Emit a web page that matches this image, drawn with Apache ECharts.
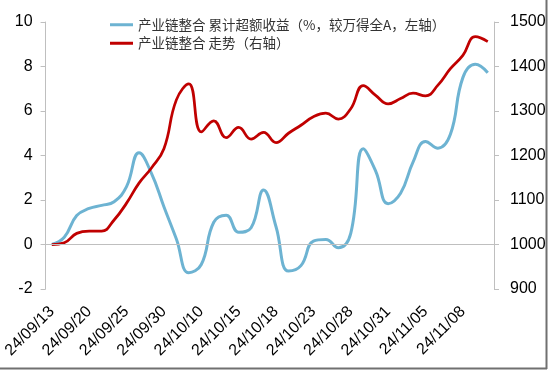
<!DOCTYPE html>
<html>
<head>
<meta charset="utf-8">
<script src="https://cdn.jsdelivr.net/npm/echarts@6/dist/echarts.min.js"></script>
<style>
html,body{margin:0;padding:0;background:#fff;}
#c{width:550px;height:371px;}
</style>
</head>
<body>
<div id="c"></div>
<script>
var categories = ['24/09/13','24/09/18','24/09/19','24/09/20','24/09/23','24/09/24','24/09/25','24/09/26','24/09/27','24/09/30',
  '24/10/08','24/10/09','24/10/10','24/10/11','24/10/14','24/10/15','24/10/16','24/10/17','24/10/18','24/10/21',
  '24/10/22','24/10/23','24/10/24','24/10/25','24/10/28','24/10/29','24/10/30','24/10/31','24/11/01','24/11/04',
  '24/11/05','24/11/06','24/11/07','24/11/08','24/11/11','24/11/12'];
var excessReturn = [0, 0.33, 1.3, 1.62, 1.76, 1.92, 2.6, 4.12, 3.2, 1.7,
  0.25, -1.27, -0.9, 1.0, 1.32, 0.55, 0.75, 2.45, 0.8, -1.19,
  -0.95, 0.15, 0.22, -0.15, 0.5, 4.3, 3.3, 1.83, 2.3, 3.7,
  4.63, 4.33, 4.95, 7.5, 8.1, 7.72];
var trendIndex = [1000, 1004, 1025, 1030, 1030, 1055, 1093, 1138, 1172, 1215,
  1325, 1361, 1253, 1278, 1240, 1263, 1237, 1252, 1229, 1250,
  1268, 1287, 1295, 1282, 1305, 1357, 1335, 1316, 1328, 1340,
  1334, 1358, 1395, 1425, 1467, 1456];
var seriesNames = ['产业链整合 累计超额收益（%，较万得全A，左轴）', '产业链整合 走势（右轴）'];
var leftTicks = {min: -2, max: 10, interval: 2};
var rightTicks = {min: 900, max: 1500, interval: 100};

var chart = echarts.init(document.getElementById('c'), null, {renderer: 'canvas'});
var axisGray = '#bfbfbf';
var numFont = '"Liberation Sans", Arial, sans-serif';
chart.setOption({
  animation: false,
  backgroundColor: '#fff',
  legend: {
    orient: 'vertical',
    left: 110,
    top: 18,
    padding: 0,
    icon: 'rect',
    itemWidth: 23,
    itemHeight: 3,
    itemGap: 5,
    textStyle: {fontSize: 13.5, color: '#333', fontFamily: '"Noto Sans CJK SC", sans-serif'},
    data: seriesNames
  },
  grid: {left: 45, right: 56, top: 22, bottom: 82, containLabel: false},
  xAxis: {
    type: 'category',
    data: categories,
    boundaryGap: true,
    axisLine: {show: false, onZero: false},
    axisTick: {show: false},
    axisLabel: {interval: 2, rotate: 45, fontSize: 16, color: '#000', margin: 20, fontFamily: numFont},
    splitLine: {show: false}
  },
  yAxis: [{
    type: 'value',
    min: leftTicks.min, max: leftTicks.max, interval: leftTicks.interval,
    axisLine: {show: true, lineStyle: {color: axisGray, width: 1}},
    axisTick: {show: true, inside: false, length: 5, lineStyle: {color: axisGray}},
    axisLabel: {fontSize: 16, color: '#000', margin: 13, fontFamily: numFont},
    splitLine: {show: false}
  }, {
    type: 'value',
    position: 'right',
    min: rightTicks.min, max: rightTicks.max, interval: rightTicks.interval,
    axisLine: {show: true, lineStyle: {color: axisGray, width: 1}},
    axisTick: {show: true, inside: false, length: 5, lineStyle: {color: axisGray}},
    axisLabel: {fontSize: 16, color: '#000', margin: 16, fontFamily: numFont,
      formatter: function (v) { return String(v); }},
    splitLine: {show: false}
  }],
  series: [{
    name: seriesNames[0],
    type: 'line',
    yAxisIndex: 0,
    data: excessReturn,
    smooth: 0.45,
    symbol: 'none',
    itemStyle: {color: '#6db3d2'},
    lineStyle: {color: '#6db3d2', width: 3},
    markLine: {
      silent: true,
      symbol: ['none', 'none'],
      label: {show: false},
      lineStyle: {color: axisGray, width: 1, type: 'solid'},
      data: [{yAxis: 0}]
    },
    z: 2
  }, {
    name: seriesNames[1],
    type: 'line',
    yAxisIndex: 1,
    data: trendIndex,
    smooth: 0.45,
    symbol: 'none',
    itemStyle: {color: '#c00000'},
    lineStyle: {color: '#c00000', width: 2.75},
    z: 3
  }],
  graphic: [
    {type: 'line', shape: {x1: 546.5, y1: 0, x2: 546.5, y2: 369}, style: {stroke: '#707070', lineWidth: 2}},
    {type: 'line', shape: {x1: 0, y1: 368.5, x2: 547, y2: 368.5}, style: {stroke: '#707070', lineWidth: 2}}
  ]
});
</script>
</body>
</html>
